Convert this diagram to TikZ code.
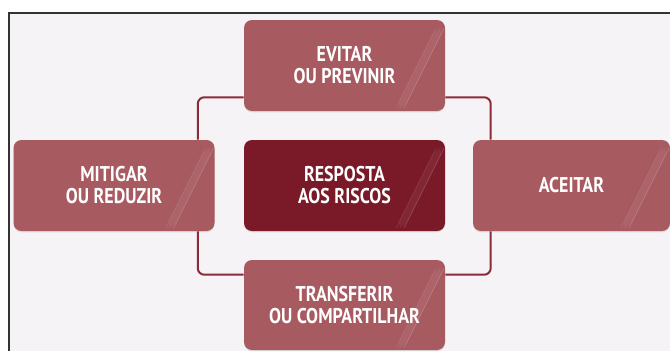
\documentclass[tikz,border=0pt]{standalone}
\usepackage{fontspec}
\setmainfont{PT Sans}[FakeStretch=0.84]
\usetikzlibrary{calc,shadows}

\definecolor{boxred}{HTML}{A85A61}
\definecolor{darkred}{HTML}{7A1A28}
\definecolor{linkred}{HTML}{8C2A38}
\definecolor{paper}{HTML}{F5F3F5}

\tikzset{
    riskbox/.style={fill=boxred, rounded corners=6pt, text=white, align=center,
        minimum width=150.75pt, minimum height=68.25pt, inner sep=0pt,
        font=\fontsize{16}{16.5}\selectfont\bfseries,
        drop shadow={opacity=.18, shadow xshift=0pt, shadow yshift=-1pt},
        path picture={
            \fill[white,opacity=.06] ($(path picture bounding box.north east)+(-1,8)$) -- ++(-40,80) -- ++(-8,0) -- ++(40,-80) -- cycle;
            \draw[white,opacity=.18,line width=.5pt] ($(path picture bounding box.north east)+(-1,8)$) -- ++(-40,80);
            \draw[white,opacity=.12,line width=.4pt] ($(path picture bounding box.north east)+(-9,8)$) -- ++(-40,80);
        }},
    centerbox/.style={riskbox, fill=darkred},
    link/.style={draw=linkred, line width=1.5pt, rounded corners=5pt}
}

\begin{document}
\begin{tikzpicture}[x=0.75pt,y=-0.75pt]
    \useasboundingbox (0,0) rectangle (670,351);
    \fill[white] (0,0) rectangle (670,351);
    \fill[paper] (9,13) rectangle (670,351);
    \draw[black!80,line width=1pt] (9,351) -- (9,13) -- (670,13);

    % box centres
    \path (344.5,65.5) coordinate (c1) (114,185.5) coordinate (c2)
          (571.5,185.5) coordinate (c3) (344.5,305) coordinate (c4);

    \node[riskbox] (evitar) at (c1) {EVITAR\\OU PREVINIR};
    \node[riskbox] (mitigar) at (c2) {MITIGAR\\OU REDUZIR};
    \node[centerbox] (resposta) at (344.5,185.5) {RESPOSTA\\AOS RISCOS};
    \node[riskbox, minimum width=147.75pt] (aceitar) at (c3) {ACEITAR};
    \node[riskbox, minimum height=67.5pt] (transferir) at (c4) {TRANSFERIR\\OU COMPARTILHAR};

    \draw[link] ($(evitar.south west)+(0,-14)$) -| ($(mitigar.north east)+(-17,0)$);
    \draw[link] ($(evitar.south east)+(0,-14)$) -| ($(aceitar.north west)+(18,0)$);
    \draw[link] ($(mitigar.south east)+(-17,0)$) |- ($(transferir.north west)+(0,15)$);
    \draw[link] ($(aceitar.south west)+(18,0)$) |- ($(transferir.north east)+(0,15)$);
\end{tikzpicture}
\end{document}
